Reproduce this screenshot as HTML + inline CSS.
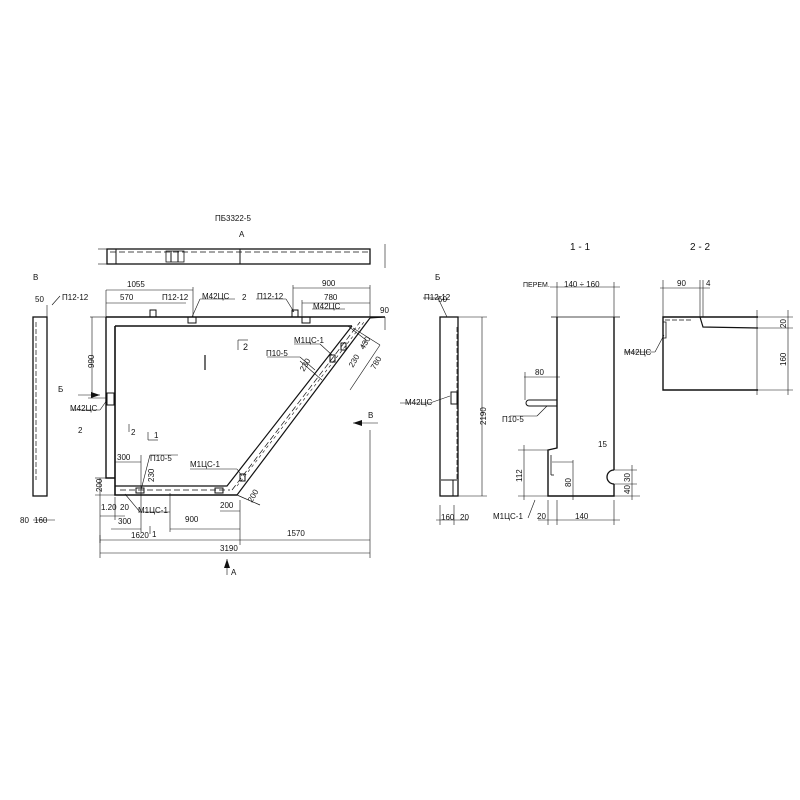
<!DOCTYPE html>
<html><head><meta charset="utf-8"><style>
html,body{margin:0;padding:0;background:#fff}
svg{display:block}
text{font-family:"Liberation Sans",sans-serif;font-size:8px;fill:#111}
</style></head><body>
<svg width="800" height="800" viewBox="0 0 800 800" xmlns="http://www.w3.org/2000/svg">
<g stroke="#111" fill="none" stroke-width="1">
<rect x="107" y="249" width="263" height="15" stroke-width="1.3"/>
<line x1="116" y1="249" x2="116" y2="264"/>
<line x1="240" y1="249" x2="240" y2="264"/>
<line x1="110" y1="252" x2="370" y2="252" stroke-dasharray="6,3" stroke-width="0.7"/>
<rect x="166" y="251" width="18" height="11" stroke-width="0.8"/>
<line x1="171" y1="251" x2="171" y2="262"/><line x1="178" y1="251" x2="178" y2="262"/>
<line x1="98" y1="249" x2="107" y2="249" stroke-width="0.6"/><line x1="98" y1="264" x2="107" y2="264" stroke-width="0.6"/>
<line x1="385" y1="244" x2="385" y2="268" stroke-width="0.6"/>
<polyline points="106,317 385,317" stroke-width="1.4"/>
<polyline points="106,317 106,478 115,478" stroke-width="1.4"/>
<polyline points="115,326 352,326" stroke-width="1.6"/>
<polyline points="115,326 115,495 237,495" stroke-width="1.6"/>
<polyline points="115,486 227,486 352,326" stroke-width="1.2"/>
<line x1="237" y1="495" x2="370" y2="318" stroke-width="1.2"/>
<line x1="370" y1="318" x2="385" y2="317"/>
<line x1="120" y1="490" x2="230" y2="490" stroke-dasharray="6,3" stroke-width="0.7"/>
<line x1="232" y1="490" x2="360" y2="322" stroke-dasharray="6,3" stroke-width="0.7"/>
<line x1="237" y1="486" x2="364" y2="322" stroke-dasharray="3,3" stroke-width="0.6"/>
<line x1="237" y1="495" x2="260" y2="505" stroke-width="0.7"/>
<rect x="150" y="310" width="6" height="7"/><rect x="188" y="317" width="8" height="6"/>
<rect x="292" y="310" width="6" height="7"/><rect x="302" y="317" width="8" height="6"/>
<rect x="107" y="393" width="7" height="12"/>
<rect x="136" y="488" width="8" height="5"/><rect x="215" y="488" width="8" height="5"/>
<rect x="240" y="474" width="5" height="7"/><rect x="330" y="355" width="5" height="7"/><rect x="341" y="343" width="5" height="7"/>
<g stroke-width="0.6">
<line x1="106" y1="290" x2="106" y2="317"/><line x1="106" y1="290" x2="193" y2="290"/><line x1="193" y1="287" x2="193" y2="317"/>
<line x1="106" y1="303" x2="186" y2="303"/>
<line x1="293" y1="285" x2="293" y2="312"/><line x1="293" y1="288" x2="370" y2="288"/><line x1="370" y1="285" x2="370" y2="317"/>
<line x1="302" y1="303" x2="370" y2="303"/><line x1="302" y1="300" x2="302" y2="317"/>
<line x1="90" y1="317" x2="106" y2="317"/><line x1="92" y1="317" x2="92" y2="398"/><line x1="88" y1="398" x2="106" y2="398"/>
<line x1="100" y1="478" x2="100" y2="505"/><line x1="95" y1="478" x2="106" y2="478"/><line x1="95" y1="495" x2="115" y2="495"/>
<line x1="100" y1="505" x2="100" y2="543"/><line x1="100" y1="516" x2="125" y2="516"/><line x1="115" y1="497" x2="115" y2="520"/>
<line x1="111" y1="529" x2="141" y2="529"/><line x1="141" y1="455" x2="141" y2="532"/>
<line x1="141" y1="462" x2="115" y2="462"/>
<line x1="170" y1="493" x2="170" y2="532"/><line x1="170" y1="529" x2="240" y2="529"/><line x1="240" y1="500" x2="240" y2="545"/>
<line x1="220" y1="511" x2="240" y2="511"/>
<line x1="100" y1="540" x2="370" y2="540"/><line x1="100" y1="553" x2="370" y2="553"/>
<line x1="370" y1="430" x2="370" y2="558"/><line x1="100" y1="535" x2="100" y2="558"/>
<line x1="385" y1="317" x2="385" y2="330"/>
<line x1="348" y1="326" x2="366" y2="340"/><line x1="366" y1="340" x2="362" y2="347"/>
<line x1="353" y1="328" x2="380" y2="345"/><line x1="380" y1="345" x2="350" y2="390"/>
<line x1="300" y1="361" x2="322" y2="380"/>
<line x1="353" y1="423" x2="378" y2="423"/>
<line x1="238" y1="340" x2="238" y2="350"/><line x1="238" y1="340" x2="248" y2="340"/>
<line x1="129" y1="432" x2="129" y2="424"/><line x1="148" y1="440" x2="158" y2="440"/><line x1="148" y1="432" x2="148" y2="440"/>
<line x1="78" y1="395" x2="100" y2="395"/>
<line x1="227" y1="559" x2="227" y2="575"/>
<line x1="205" y1="355" x2="205" y2="370" stroke-width="1.2"/>
<line x1="150" y1="526" x2="150" y2="534"/>
<line x1="60" y1="296" x2="52" y2="305"/>
<line x1="190" y1="469" x2="237" y2="469"/><line x1="237" y1="469" x2="242" y2="476"/>
<line x1="267" y1="357" x2="300" y2="357"/><line x1="300" y1="357" x2="315" y2="370"/>
<line x1="294" y1="344" x2="320" y2="344"/><line x1="320" y1="344" x2="332" y2="355"/>
<line x1="200" y1="299" x2="235" y2="299"/><line x1="200" y1="299" x2="192" y2="317"/>
<line x1="256" y1="299" x2="286" y2="299"/><line x1="286" y1="299" x2="294" y2="312"/>
<line x1="312" y1="309" x2="345" y2="309"/>
<line x1="71" y1="410" x2="100" y2="410"/><line x1="100" y1="410" x2="107" y2="400"/>
<line x1="423" y1="298" x2="438" y2="298"/><line x1="438" y1="298" x2="447" y2="317"/>
<line x1="400" y1="403" x2="430" y2="403"/><line x1="430" y1="403" x2="450" y2="396"/>
<line x1="140" y1="512" x2="170" y2="512"/><line x1="140" y1="512" x2="125" y2="494"/>
<line x1="150" y1="455" x2="178" y2="455"/><line x1="150" y1="455" x2="141" y2="490"/>
</g>
<rect x="33" y="317" width="14" height="179" stroke-width="1.3"/>
<line x1="36" y1="322" x2="36" y2="480" stroke-dasharray="5,2" stroke-width="0.7"/>
<line x1="47" y1="305" x2="47" y2="317" stroke-width="0.6"/>
<line x1="33" y1="520" x2="55" y2="520" stroke-width="0.6"/>
<rect x="440" y="317" width="18" height="179" stroke-width="1.3"/>
<line x1="457" y1="327" x2="457" y2="480" stroke-dasharray="5,2" stroke-width="0.7"/>
<rect x="451" y="392" width="6" height="12"/>
<line x1="441" y1="480" x2="457" y2="480"/><line x1="453" y1="480" x2="453" y2="496"/>
<line x1="458" y1="317" x2="487" y2="317" stroke-width="0.6"/><line x1="458" y1="496" x2="487" y2="496" stroke-width="0.6"/>
<line x1="482" y1="317" x2="482" y2="496" stroke-width="0.6"/>
<line x1="440" y1="505" x2="440" y2="525" stroke-width="0.6"/><line x1="454" y1="505" x2="454" y2="525" stroke-width="0.6"/>
<line x1="436" y1="520" x2="468" y2="520" stroke-width="0.6"/>
<polyline points="557,317 557,448 548,450 548,496 614,496 614,484" stroke-width="1.4"/>
<path d="M614,484 A7,7 0 0 1 614,470" stroke-width="1.3"/>
<polyline points="614,470 614,317" stroke-width="1.4"/>
<line x1="551" y1="317" x2="620" y2="317" stroke-width="0.8"/>
<line x1="557" y1="282" x2="557" y2="317" stroke-width="0.6"/><line x1="614" y1="282" x2="614" y2="317" stroke-width="0.6"/>
<line x1="550" y1="287" x2="620" y2="287" stroke-width="0.6"/>
<path d="M557,400 H529 a3,3 0 0 0 0,6 H557" stroke-width="1"/>
<line x1="524" y1="377" x2="560" y2="377" stroke-width="0.6"/><line x1="525" y1="372" x2="525" y2="400" stroke-width="0.6"/>
<line x1="537" y1="416" x2="547" y2="406" stroke-width="0.6"/><line x1="510" y1="416" x2="537" y2="416" stroke-width="0.6"/>
<line x1="518" y1="450" x2="550" y2="450" stroke-width="0.6"/><line x1="524" y1="445" x2="524" y2="500" stroke-width="0.6"/>
<line x1="518" y1="496" x2="640" y2="496" stroke-width="0.6"/>
<line x1="552" y1="462" x2="573" y2="462" stroke-width="0.6"/><line x1="573" y1="460" x2="573" y2="500" stroke-width="0.6"/>
<line x1="548" y1="500" x2="548" y2="525" stroke-width="0.6"/><line x1="557" y1="500" x2="557" y2="525" stroke-width="0.6"/><line x1="614" y1="500" x2="614" y2="525" stroke-width="0.6"/>
<line x1="538" y1="520" x2="620" y2="520" stroke-width="0.6"/>
<line x1="614" y1="470" x2="637" y2="470" stroke-width="0.6"/><line x1="614" y1="484" x2="637" y2="484" stroke-width="0.6"/><line x1="632" y1="465" x2="632" y2="500" stroke-width="0.6"/>
<line x1="551" y1="455" x2="551" y2="475" stroke-width="0.8"/><line x1="551" y1="475" x2="554" y2="475" stroke-width="0.8"/>
<line x1="535" y1="500" x2="528" y2="518" stroke-width="0.6"/>
<polyline points="758,317 663,317 663,390 758,390" stroke-width="1.4"/>
<polyline points="665,320 693,320" stroke-dasharray="5,2" stroke-width="0.8"/>
<polyline points="700,317 703,327 758,328" stroke-width="1.2"/>
<path d="M663,322 h3 v16 h-3" stroke-width="0.8"/>
<line x1="663" y1="280" x2="663" y2="317" stroke-width="0.6"/><line x1="700" y1="280" x2="700" y2="317" stroke-width="0.6"/><line x1="703" y1="280" x2="703" y2="317" stroke-width="0.6"/>
<line x1="660" y1="288" x2="710" y2="288" stroke-width="0.6"/>
<line x1="757" y1="310" x2="757" y2="395" stroke-width="0.6"/>
<line x1="758" y1="317" x2="793" y2="317" stroke-width="0.6"/><line x1="758" y1="328" x2="793" y2="328" stroke-width="0.6"/><line x1="758" y1="390" x2="793" y2="390" stroke-width="0.6"/>
<line x1="788" y1="310" x2="788" y2="395" stroke-width="0.6"/>
<line x1="624" y1="352" x2="655" y2="352" stroke-width="0.6"/><line x1="655" y1="352" x2="664" y2="335" stroke-width="0.6"/>
</g>
<g fill="#111">
<polygon points="353,423 362,420 362,426"/>
<polygon points="100,395 91,392 91,398"/>
<polygon points="227,559 224,568 230,568"/>
</g>
<text x="215" y="221">ПБ3322-5</text>
<text x="239" y="237">А</text>
<text x="33" y="280">В</text>
<text x="35" y="302">50</text>
<text x="62" y="300">П12-12</text>
<text x="127" y="287">1055</text>
<text x="120" y="300">570</text>
<text x="162" y="300">П12-12</text>
<text x="202" y="299">М42ЦС</text>
<text x="242" y="300">2</text>
<text x="257" y="299">П12-12</text>
<text x="322" y="286">900</text>
<text x="324" y="300">780</text>
<text x="313" y="309">М42ЦС</text>
<text x="424" y="300">П12-12</text>
<text x="380" y="313">90</text>
<text x="243" y="350" style="font-size:9px">2</text>
<text x="294" y="343">М1ЦС-1</text>
<text x="266" y="356">П10-5</text>
<text transform="translate(364,350) rotate(-60)">430</text>
<text transform="translate(375,370) rotate(-60)">780</text>
<text transform="translate(353,368) rotate(-60)">230</text>
<text transform="translate(304,372) rotate(-60)">230</text>
<text transform="translate(252,503) rotate(-60)">200</text>
<text transform="translate(94,368) rotate(-90)">990</text>
<text transform="translate(102,492) rotate(-90)">200</text>
<text transform="translate(154,482) rotate(-90)">230</text>
<text x="58" y="392">Б</text>
<text x="70" y="411">М42ЦС</text>
<text x="78" y="433">2</text>
<text x="131" y="435">2</text>
<text x="154" y="438">1</text>
<text x="150" y="461">П10-5</text>
<text x="117" y="460">300</text>
<text x="190" y="467">М1ЦС-1</text>
<text x="368" y="418">В</text>
<text x="138" y="513">М1ЦС-1</text>
<text x="101" y="510">1.20</text>
<text x="120" y="510">20</text>
<text x="118" y="524">300</text>
<text x="185" y="522">900</text>
<text x="220" y="508">200</text>
<text x="152" y="537">1</text>
<text x="131" y="538">1620</text>
<text x="287" y="536">1570</text>
<text x="220" y="551">3190</text>
<text x="231" y="575">А</text>
<text x="20" y="523">80</text><text x="34" y="523">160</text>
<text x="435" y="280">Б</text>
<text x="438" y="302">50</text>
<text x="405" y="405">М42ЦС</text>
<text x="441" y="520">160</text><text x="460" y="520">20</text>
<text transform="translate(486,425) rotate(-90)">2190</text>
<text x="570" y="250" style="font-size:10px">1 - 1</text>
<text x="690" y="250" style="font-size:10px">2 - 2</text>
<text x="523" y="287" style="font-size:7px">ПЕРЕМ.</text>
<text x="564" y="287">140 ÷ 160</text>
<text x="535" y="375">80</text>
<text x="502" y="422">П10-5</text>
<text x="598" y="447">15</text>
<text transform="translate(522,482) rotate(-90)">112</text>
<text transform="translate(571,487) rotate(-90)">80</text>
<text transform="translate(630,482) rotate(-90)">30</text>
<text transform="translate(630,494) rotate(-90)">40</text>
<text x="493" y="519">М1ЦС-1</text>
<text x="537" y="519">20</text>
<text x="575" y="519">140</text>
<text x="677" y="286">90</text><text x="706" y="286">4</text>
<text x="624" y="355">М42ЦС</text>
<text transform="translate(786,328) rotate(-90)">20</text>
<text transform="translate(786,366) rotate(-90)">160</text>
</svg>
</body></html>
